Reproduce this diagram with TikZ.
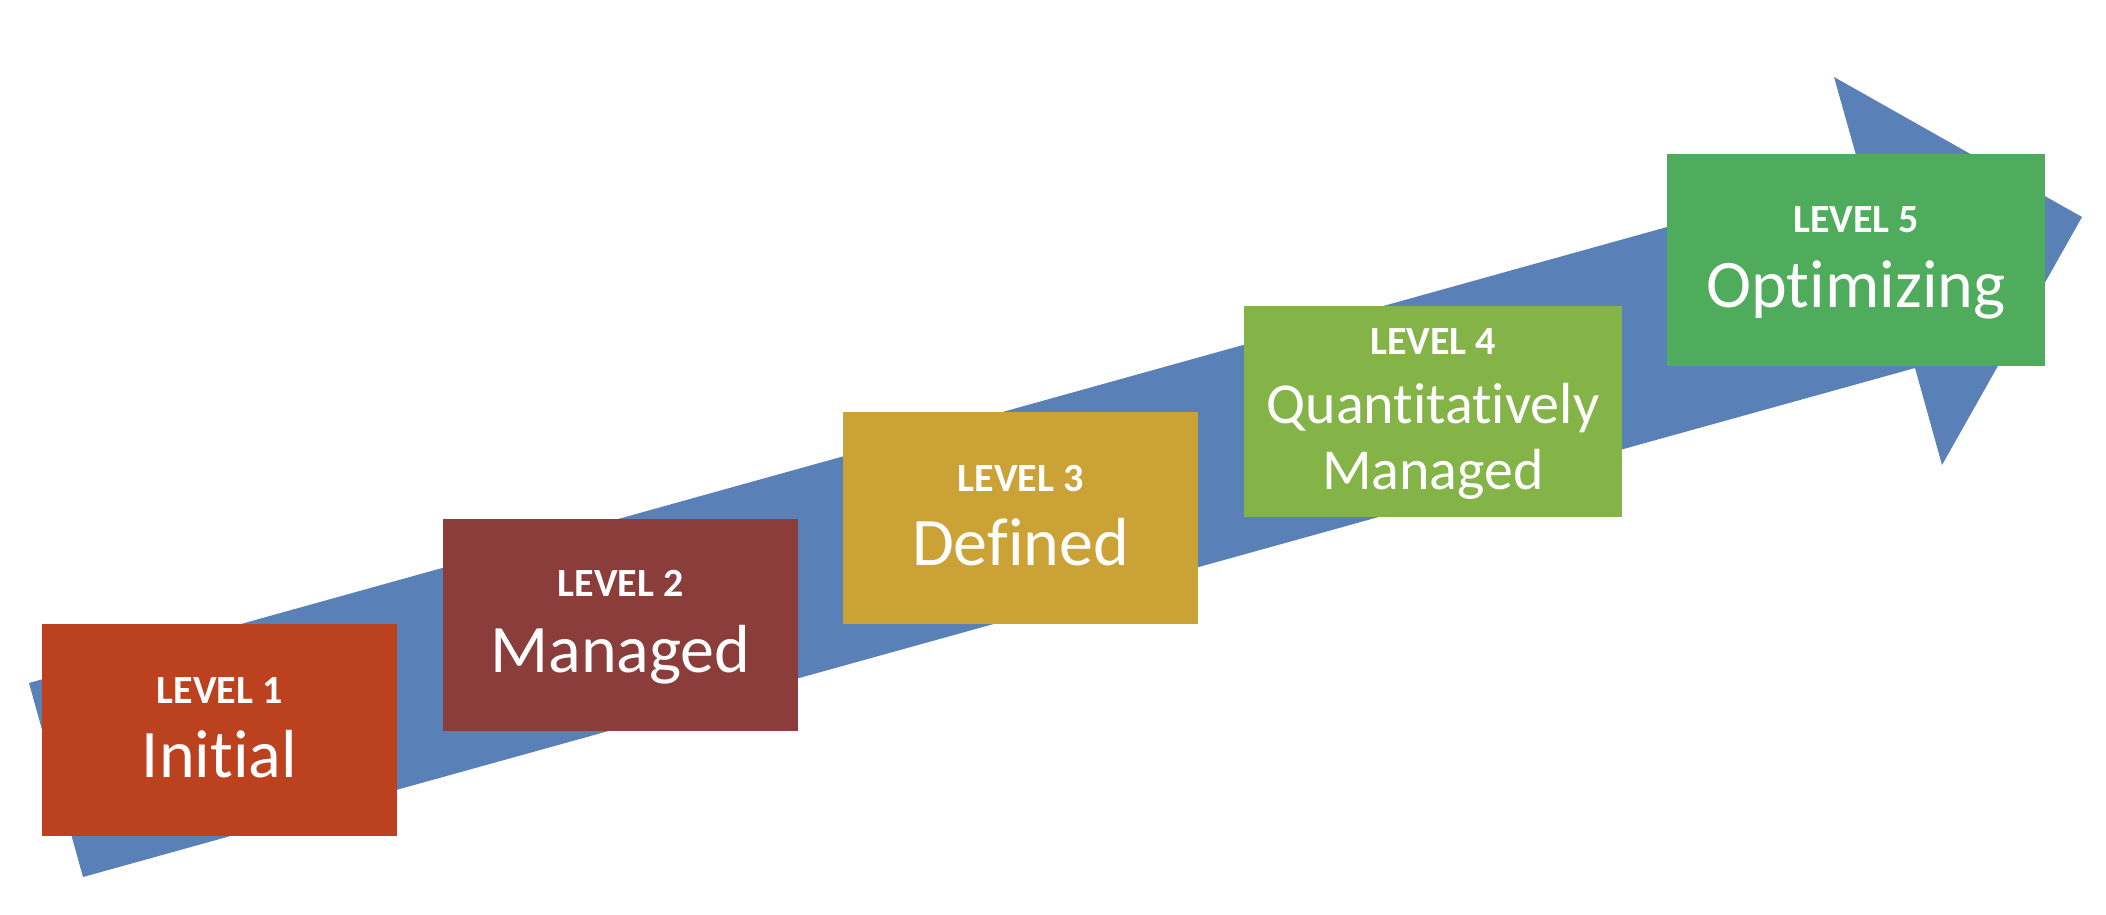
\documentclass[tikz,border=0pt]{standalone}
\usepackage{fontspec}
\setmainfont{Carlito}[Ligatures=NoCommon]
\usepackage{tikz}
\definecolor{arrowblue}{HTML}{5A80B8}
\definecolor{lvone}{HTML}{BC411F}
\definecolor{lvtwo}{HTML}{8A3D3A}
\definecolor{lvthree}{HTML}{CAA236}
\definecolor{lvfour}{HTML}{84B348}
\definecolor{lvfive}{HTML}{4FAC5C}

\begin{document}
\begin{tikzpicture}[x=1pt, y=-1pt,
        stage/.style={rectangle, inner sep=0pt, minimum width=355pt, minimum height=212pt},
        widestage/.style={stage, minimum width=378pt},
        tagtext/.style={anchor=base, inner sep=0pt, text=white, font=\fontsize{40}{48}\selectfont\bfseries},
        lvtitle/.style={anchor=base, inner sep=0pt, text=white, font=\fontsize{68}{80}\selectfont},
        smalltitle/.style={lvtitle, font=\fontsize{58}{68}\selectfont}]
            \useasboundingbox (0, 0) rectangle (2106, 914);

            %Big arrow behind the levels.
            \fill[arrowblue] (29, 683) -- (1861, 173) -- (1834, 77) -- (2082, 217)
                -- (1942, 465) -- (1915, 368) -- (83, 877) -- cycle;

            \node (l1) at (219.5, 730) [stage, fill=lvone] {};
            \node (l2) at (620.5, 624.5) [stage, fill=lvtwo] {};
            \node (l3) at (1020.5, 517.5) [stage, fill=lvthree] {};
            \node (l4) at (1433, 411.5) [widestage, fill=lvfour, minimum height=211pt] {};
            \node (l5) at (1856, 260) [widestage, fill=lvfive] {};

            \node (t1) at ([yshift=27pt]l1.center) [tagtext] {LEVEL 1};
            \node (n1) at ([yshift=-47pt]l1.center) [lvtitle] {Initial};

            \node (t2) at ([yshift=28pt]l2.center) [tagtext] {LEVEL 2};
            \node (n2) at ([yshift=-47.5pt]l2.center) [lvtitle] {Managed};

            \node (t3) at ([yshift=26.5pt]l3.center) [tagtext] {LEVEL 3};
            \node (n3) at ([yshift=-47.5pt]l3.center) [lvtitle] {Defined};

            \node (t4) at ([yshift=57.5pt]l4.center) [tagtext] {LEVEL 4};
            \node (n4) at ([yshift=-11.5pt]l4.center) [smalltitle] {Quantitatively};
            \node (m4) at ([yshift=-77.5pt]l4.center) [smalltitle] {Managed};

            \node (t5) at ([yshift=28pt]l5.center) [tagtext] {LEVEL 5};
            \node (n5) at ([yshift=-47pt]l5.center) [lvtitle] {Optimizing};
        \end{tikzpicture}
\end{document}
